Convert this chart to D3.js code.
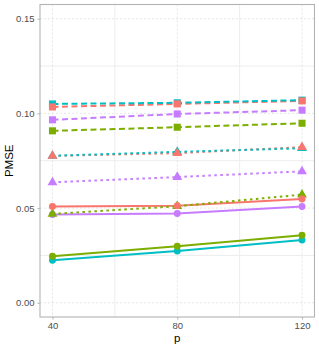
<!DOCTYPE html>
<html>
<head>
<meta charset="utf-8">
<script src="https://cdn.jsdelivr.net/npm/d3@7"></script>
<style>
body { margin: 0; background: #fff; }
text { font-family: "Liberation Sans", Arial, sans-serif; }
</style>
</head>
<body>
<script>
var w = 319;
var h = 348;

var pValues = [40, 80, 120];
var yTicks = [0, 0.05, 0.10, 0.15];
var colors = ["#F8766D", "#7CAE00", "#00BFC4", "#C77CFF"];

// dashed lines with squares
var dashedRed = [0.1034, 0.1050, 0.1066];
var dashedOlive = [0.0908, 0.0927, 0.0948];
var dashedTeal = [0.1050, 0.1056, 0.1070];
var dashedPurple = [0.0966, 0.0997, 0.1017];
// dotted lines with triangles
var dottedRed = [0.0776, 0.0790, 0.0822];
var dottedOlive = [0.0469, 0.0510, 0.0571];
var dottedTeal = [0.0776, 0.0797, 0.0816];
var dottedPurple = [0.0636, 0.0664, 0.0694];
// solid lines with circles
var solidRed = [0.0509, 0.0513, 0.0548];
var solidOlive = [0.0246, 0.0299, 0.0357];
var solidTeal = [0.0225, 0.0273, 0.0331];
var solidPurple = [0.0466, 0.0471, 0.0508];

// order: purple, red, olive, teal for lines (teal on top)
var series = [
  {vals: solidPurple, col: 3, type: "solid"},
  {vals: dottedPurple, col: 3, type: "dotted"},
  {vals: dashedPurple, col: 3, type: "dashed"},
  {vals: solidRed, col: 0, type: "solid"},
  {vals: dottedRed, col: 0, type: "dotted"},
  {vals: dashedRed, col: 0, type: "dashed"},
  {vals: solidOlive, col: 1, type: "solid"},
  {vals: dottedOlive, col: 1, type: "dotted"},
  {vals: dashedOlive, col: 1, type: "dashed"},
  {vals: solidTeal, col: 2, type: "solid"},
  {vals: dottedTeal, col: 2, type: "dotted"},
  {vals: dashedTeal, col: 2, type: "dashed"}
];
// points: purple, teal, olive, red (red on top)
var pointOrder = [3, 2, 1, 0];

var pLeft = 40, pRight = 314.5, pTop = 4.5, pBottom = 317;

var x = d3.scaleLinear().domain([36, 124]).range([pLeft, pRight]);
var y = d3.scaleLinear().domain([-0.0075, 0.1575]).range([pBottom, pTop]);

var svg = d3.select("body").append("svg")
  .attr("width", w)
  .attr("height", h);

// minor grid
var xMinor = [60, 100];
var yMinor = [0.025, 0.075, 0.125];
svg.selectAll(".xminor").data(xMinor).enter().append("line")
  .attr("x1", d => x(d)).attr("x2", d => x(d))
  .attr("y1", pTop).attr("y2", pBottom)
  .attr("stroke", "#EDEDED").attr("stroke-width", 1);
svg.selectAll(".yminor").data(yMinor).enter().append("line")
  .attr("x1", pLeft).attr("x2", pRight)
  .attr("y1", d => y(d)).attr("y2", d => y(d))
  .attr("stroke", "#EDEDED").attr("stroke-width", 1);

// major grid (dashed)
svg.selectAll(".xmajor").data(pValues).enter().append("line")
  .attr("x1", d => x(d)).attr("x2", d => x(d))
  .attr("y1", pTop).attr("y2", pBottom)
  .attr("stroke", "#E0E0E0").attr("stroke-width", 0.8)
  .attr("stroke-dasharray", "2,2");
svg.selectAll(".ymajor").data(yTicks).enter().append("line")
  .attr("x1", pLeft).attr("x2", pRight)
  .attr("y1", d => y(d)).attr("y2", d => y(d))
  .attr("stroke", "#E0E0E0").attr("stroke-width", 0.8)
  .attr("stroke-dasharray", "2,2");

// axes
var xAxis = svg.append("g")
  .attr("transform", "translate(0," + pBottom + ")")
  .call(d3.axisBottom(x).tickValues(pValues).tickSize(2.5).tickPadding(3));
var yAxis = svg.append("g")
  .attr("transform", "translate(" + pLeft + ",0)")
  .call(d3.axisLeft(y).tickValues(yTicks).tickFormat(d3.format(".2f")).tickSize(2.5).tickPadding(3));
[xAxis, yAxis].forEach(function(g) {
  g.select(".domain").remove();
  g.selectAll("line").attr("stroke", "#B3B3B3");
  g.selectAll("text").attr("fill", "#4D4D4D").style("font-size", "9.5px")
    .style("font-family", "'Liberation Sans', Arial, sans-serif");
});

// panel border
svg.append("rect")
  .attr("x", pLeft).attr("y", pTop)
  .attr("width", pRight - pLeft).attr("height", pBottom - pTop)
  .attr("fill", "none").attr("stroke", "#B3B3B3").attr("stroke-width", 1.1);

// axis titles
svg.append("text")
  .attr("x", x(80)).attr("y", 342)
  .attr("text-anchor", "middle")
  .style("font-size", "11.5px")
  .text("p");
svg.append("text")
  .attr("transform", "translate(13," + ((pTop + pBottom) / 2) + ") rotate(-90)")
  .attr("text-anchor", "middle")
  .style("font-size", "11.5px")
  .text("PMSE");

var line = d3.line()
  .x((d, i) => x(pValues[i]))
  .y(d => y(d));

var dashes = {solid: null, dotted: "2.5,3.5", dashed: "6,3.5"};

series.forEach(function(s) {
  svg.append("path")
    .datum(s.vals)
    .attr("d", line)
    .attr("fill", "none")
    .attr("stroke", colors[s.col])
    .attr("stroke-width", 2)
    .attr("stroke-dasharray", dashes[s.type]);
});

var shapes = {solid: d3.symbolCircle, dotted: d3.symbolTriangle, dashed: d3.symbolSquare};
var sizes = {solid: 38, dotted: 42, dashed: 50};

pointOrder.forEach(function(c) {
  series.filter(s => s.col === c).forEach(function(s) {
    svg.selectAll(null)
      .data(s.vals)
      .enter().append("path")
      .attr("d", d3.symbol().type(shapes[s.type]).size(sizes[s.type]))
      .attr("transform", (d, i) => "translate(" + x(pValues[i]) + "," + y(d) + ")")
      .attr("fill", colors[s.col]);
  });
});
</script>
</body>
</html>
